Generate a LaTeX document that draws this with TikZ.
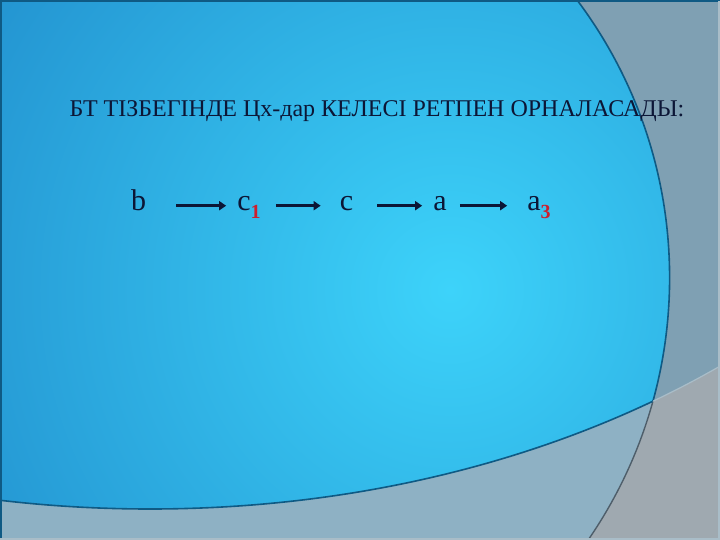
\documentclass[tikz,border=0pt]{standalone}
\usepackage{fontspec}
\setmainfont{Liberation Serif}
\usetikzlibrary{arrows.meta}

\definecolor{slidegray}{HTML}{9FA9B0}
\definecolor{slidesteel}{HTML}{7FA0B3}
\definecolor{slidepale}{HTML}{8EB1C4}
\definecolor{bluein}{HTML}{3DD3FA}
\definecolor{blueout}{HTML}{1674BC}
\definecolor{rimblue}{HTML}{0F5A84}
\definecolor{rimgray}{HTML}{4E5E6A}
\definecolor{rimfaint}{HTML}{A9BDC8}
\definecolor{inkblue}{HTML}{0C1636}
\definecolor{idxred}{HTML}{CC1F2E}
\newcommand{\lowidx}[1]{\raisebox{-8pt}{\fontsize{20}{22}\selectfont\bfseries\color{idxred}#1}}

\begin{document}
\begin{tikzpicture}[x=1pt,y=-1pt,
  letter/.style={inner sep=0pt,anchor=base,text=inkblue,font=\fontsize{30}{32}\selectfont},
  heading/.style={inner sep=0pt,anchor=base,text=inkblue,font=\fontsize{24}{28}\selectfont},
  chainarrow/.style={-{Triangle[length=7pt,width=9pt]},line width=3.5pt,draw=inkblue}]
\useasboundingbox (0,0) rectangle (720,540);
% background
\fill[slidegray] (0,0) rectangle (720,540);
\fill[slidesteel] (150,-123) ellipse[x radius=900pt,y radius=632pt];
\fill[slidepale] (206.8,277.7) circle[radius=462.8pt];
\begin{scope}
  \clip (206.8,277.7) circle[radius=462.8pt];
  \clip (150,-123) ellipse[x radius=900pt,y radius=632pt];
  \shade[inner color=bluein,outer color=blueout] (450,290) circle[radius=820pt];
\end{scope}
% rims
\begin{scope}
  \clip (150,-123) ellipse[x radius=900pt,y radius=632pt];
  \draw[rimblue,line width=1.6pt] (206.8,277.7) circle[radius=462.8pt];
\end{scope}
\begin{scope}[even odd rule]
  \clip (-5,-5) rectangle (725,545) (150,-123) ellipse[x radius=900pt,y radius=632pt];
  \draw[rimgray,line width=1.4pt] (206.8,277.7) circle[radius=462.8pt];
\end{scope}
\begin{scope}
  \clip (206.8,277.7) circle[radius=462.8pt];
  \draw[rimblue,line width=1.6pt] (150,-123) ellipse[x radius=900pt,y radius=632pt];
\end{scope}
\begin{scope}[even odd rule]
  \clip (-5,-5) rectangle (725,545) (206.8,277.7) circle[radius=462.8pt];
  \draw[rimfaint,line width=1.2pt] (150,-123) ellipse[x radius=900pt,y radius=632pt];
\end{scope}
% frame
\draw[rimblue,line width=2pt] (1,540) -- (1,1) -- (720,1);
\draw[rimfaint,line width=2pt] (719,1) -- (719,539) -- (0,539);

% text
\node[heading] (head) at (377,117) {БТ ТІЗБЕГІНДЕ Цх-дар КЕЛЕСІ РЕТПЕН ОРНАЛАСАДЫ:};
\node[letter] (b) at (138.5,211) {b};
\node[letter] (c1) at (249,211) {c\lowidx{1}};
\node[letter] (c) at (346.5,211) {c};
\node[letter] (a) at (440,211) {a};
\node[letter] (a3) at (539,211) {a\lowidx{3}};
\draw[chainarrow,shorten <=30pt,shorten >=11pt] ([yshift=3pt]b.mid east) -- ([yshift=3pt]c1.mid west);
\draw[chainarrow,shorten <=15pt,shorten >=19pt] ([yshift=3pt]c1.mid east) -- ([yshift=3pt]c.mid west);
\draw[chainarrow,shorten <=24pt,shorten >=11pt] ([yshift=3pt]c.mid east) -- ([yshift=3pt]a.mid west);
\draw[chainarrow,shorten <=13pt,shorten >=20pt] ([yshift=3pt]a.mid east) -- ([yshift=3pt]a3.mid west);
\end{tikzpicture}
\end{document}
